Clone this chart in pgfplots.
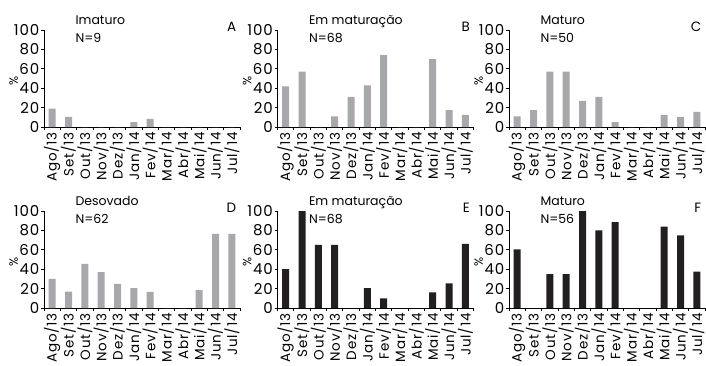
\documentclass[border=0pt]{standalone}
\usepackage{fontspec}
\setmainfont{Poppins}[LetterSpace=6]
\newfontfamily\titlefont{Poppins}
\usepackage{pgfplots}
\pgfplotsset{compat=1.18}
\definecolor{bargray}{RGB}{167,168,171}
\definecolor{barblack}{RGB}{35,31,32}
\pgfplotsset{
  panel/.style={
    scale only axis, width=196pt, height=97pt,
    anchor=south west,
    xmin=-0.5, xmax=11.5, ymin=0, ymax=100,
    axis lines*=left, axis line style={-, line width=0.8pt},
    ytick={0,20,...,100},
    xtick={0,...,11},
    xticklabels={Ago/13,Set/13,Out/13,Nov/13,Dez/13,Jan/14,Fev/14,Mar/14,Abr/14,Mai/14,Jun/14,Jul/14},
    minor xtick={-0.5,0.5,...,11.5},
    tick align=outside,
    major tick length=3pt, minor tick length=3pt,
    major x tick style={draw=none},
    tick style={line width=0.8pt, black},
    xticklabel style={rotate=90, anchor=east, inner sep=2pt, font=\fontsize{13.5}{13.5}\selectfont},
    yticklabel style={inner sep=1.5pt, font=\fontsize{15}{15}\selectfont},
    /pgf/number format/assume math mode=true,
    ylabel={\%},
    ylabel style={at={(axis description cs:-0.155,0.47)}, anchor=center, font=\fontsize{12}{12}\selectfont},
    ybar, bar width=7pt,
    clip=false,
  },
  graybar/.style={fill=bargray, draw=none},
  blackbar/.style={fill=barblack, draw=none},
}
\newcommand{\paneltext}[3]{%
  \node[anchor=base west, inner sep=0pt, font=\titlefont\fontsize{12.5}{12.5}\selectfont] at (axis description cs:0.16,1.052) {#1};
  \node[anchor=base west, inner sep=0pt, font=\titlefont\fontsize{12.5}{12.5}\selectfont] at (axis description cs:0.16,0.875) {#2};
  \node[anchor=base east, inner sep=0pt, font=\titlefont\fontsize{13.5}{13.5}\selectfont] at (axis description cs:0.982,0.98) {#3};
}
\begin{document}
\begin{tikzpicture}
\path[use as bounding box] (0,0) rectangle (706pt,365pt);
% A
\begin{axis}[panel, at={(44pt,238pt)}]
\addplot[graybar] coordinates {(0,19) (1,10.5) (2,0) (3,0) (4,0) (5,5) (6,8.5) (7,0) (8,0) (9,0) (10,0) (11,0)};
\paneltext{Imaturo}{N=9}{A}
\end{axis}
% B
\begin{axis}[panel, at={(277.5pt,238pt)}]
\addplot[graybar] coordinates {(0,42) (1,57) (2,0) (3,11) (4,31) (5,43) (6,74) (7,0) (8,0) (9,70) (10,17.5) (11,12.5)};
\paneltext{Em maturação}{N=68}{B}
\end{axis}
% C
\begin{axis}[panel, at={(509pt,238pt)}]
\addplot[graybar] coordinates {(0,11) (1,17.5) (2,57) (3,57) (4,27) (5,31) (6,5) (7,0) (8,0) (9,12.5) (10,10.5) (11,15.5)};
\paneltext{Maturo}{N=50}{C}
\end{axis}
% D
\begin{axis}[panel, at={(44pt,57pt)}]
\addplot[graybar] coordinates {(0,30) (1,17) (2,45.5) (3,37) (4,25) (5,20.5) (6,16.5) (7,0) (8,0) (9,18.5) (10,76.5) (11,76.5)};
\paneltext{Desovado}{N=62}{D}
\end{axis}
% E
\begin{axis}[panel, at={(277.5pt,57pt)}]
\addplot[blackbar] coordinates {(0,40) (1,100) (2,65) (3,65) (4,0) (5,20.5) (6,10) (7,0) (8,0) (9,16) (10,25.5) (11,66)};
\paneltext{Em maturação}{N=68}{E}
\end{axis}
% F
\begin{axis}[panel, at={(509pt,57pt)}]
\addplot[blackbar] coordinates {(0,60.5) (1,0) (2,35) (3,35) (4,100) (5,80) (6,88.5) (7,0) (8,0) (9,84) (10,75) (11,37.5)};
\paneltext{Maturo}{N=56}{F}
\end{axis}
\end{tikzpicture}
\end{document}
